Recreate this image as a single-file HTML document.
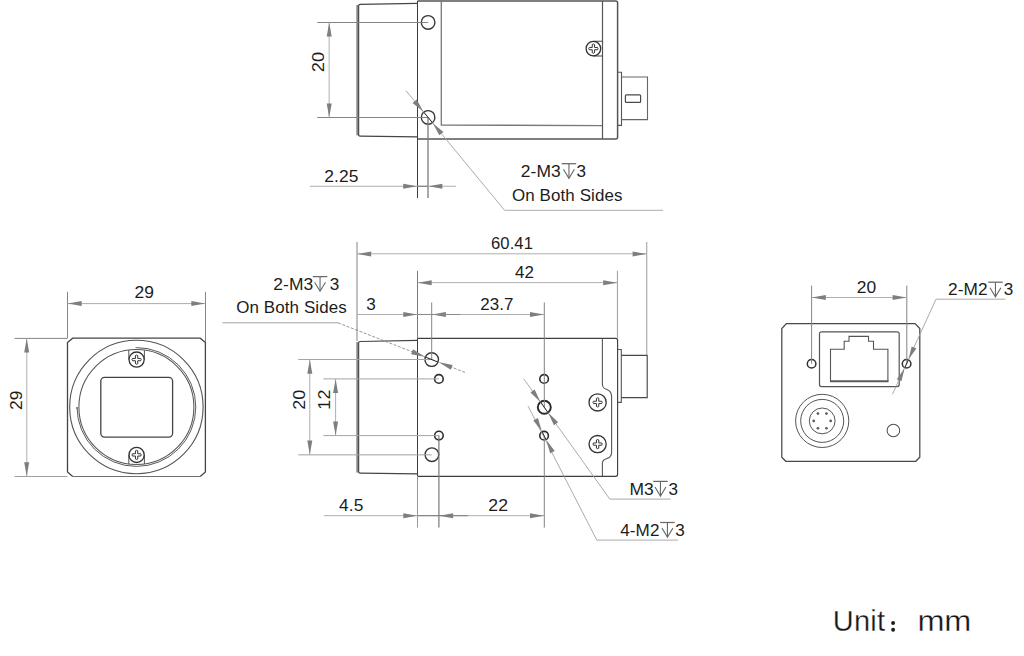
<!DOCTYPE html>
<html lang="en">
<head>
<meta charset="utf-8">
<title>Camera dimensional drawing</title>
<style>
html,body{margin:0;padding:0;background:#fff;}
body{width:1024px;height:656px;overflow:hidden;font-family:"Liberation Sans",sans-serif;}
svg{display:block;}
svg text{font-family:"Liberation Sans",sans-serif;}
</style>
</head>
<body>
<svg width="1024" height="656" viewBox="0 0 1024 656">
<rect x="0" y="0" width="1024" height="656" fill="#ffffff"/>
<path d="M417.5,3.4 L360.2,4.4 Q358.6,4.4 358.6,6 L358.6,134.4 Q358.6,136 360.2,136 L417.5,136.9" stroke="#454545" stroke-width="1.25" fill="none" />
<line x1="357.2" y1="5" x2="357.2" y2="135.4" stroke="#888" stroke-width="1.8" />
<path d="M417.5,1.0 H615.6 Q617.6,1.0 617.6,3.0 V137 Q617.6,139 615.6,139 H417.5" stroke="#555" stroke-width="1.5" fill="none" />
<line x1="417.5" y1="1.0" x2="417.5" y2="198" stroke="#3c3c3c" stroke-width="1.0" />
<path d="M441.3,1.0 V125.0 L602.5,125.6" stroke="#787878" stroke-width="1.3" fill="none" />
<line x1="602.5" y1="1.0" x2="602.5" y2="139" stroke="#555" stroke-width="1.2" />
<circle cx="428.1" cy="22.4" r="6.8" stroke="#383838" stroke-width="1.4" fill="none"/>
<circle cx="428.1" cy="117.4" r="6.8" stroke="#383838" stroke-width="1.4" fill="none"/>
<path d="M593.4,41.2 H602.5 M593.4,56.0 H602.5" stroke="#444" stroke-width="1.1" fill="none" />
<circle cx="593.4" cy="48.6" r="7.3" stroke="#333" stroke-width="1.3" fill="none"/>
<path d="M592.25,44.5 Q593.4,43.5 594.55,44.5 V47.45 H597.5 Q598.5,48.6 597.5,49.75 H594.55 V52.7 Q593.4,53.7 592.25,52.7 V49.75 H589.3 Q588.3,48.6 589.3,47.45 H592.25 Z" stroke="#333" stroke-width="1.0" fill="none" />
<path d="M617.6,72.3 H621.5 V125.4 H617.6" stroke="#555" stroke-width="1.1" fill="none" />
<path d="M621.5,77 H647.5 V119.6 H621.5" stroke="#666" stroke-width="1.1" fill="none" />
<rect x="625.4" y="94.8" width="15.2" height="7.6" rx="0.9" fill="none" stroke="#4a4a4a" stroke-width="1.2"/>
<line x1="317.2" y1="22.5" x2="428.1" y2="22.5" stroke="#848484" stroke-width="1.0" />
<line x1="317.2" y1="117.5" x2="428.1" y2="117.5" stroke="#848484" stroke-width="1.0" />
<line x1="329.15" y1="22.5" x2="329.15" y2="117.5" stroke="#aeaeae" stroke-width="1.0" />
<polygon points="329.20,22.50 331.70,36.50 326.70,36.50" fill="#7e7e7e"/>
<polygon points="329.20,117.50 326.70,103.50 331.70,103.50" fill="#7e7e7e"/>
<text transform="translate(323.8 62.0) rotate(-90) scale(1.1 1)" font-size="16.6" text-anchor="middle" letter-spacing="0.1" fill="#1c1c1c">20</text>
<line x1="428.0" y1="117.4" x2="428.0" y2="198" stroke="#7a7a7a" stroke-width="1.3" />
<line x1="309.8" y1="186.25" x2="456" y2="186.25" stroke="#aeaeae" stroke-width="1.0" />
<line x1="417.5" y1="186.25" x2="428" y2="186.25" stroke="#777" stroke-width="1.0" />
<polygon points="417.20,186.25 403.20,188.75 403.20,183.75" fill="#7e7e7e"/>
<polygon points="428.40,186.25 442.40,183.75 442.40,188.75" fill="#7e7e7e"/>
<text transform="translate(324.2 181.9) scale(1.05 1)" font-size="16.6" text-anchor="start" letter-spacing="0.1" fill="#1c1c1c">2.25</text>
<path d="M406,90.7 L504.6,210.3 H663" stroke="#a2a2a2" stroke-width="0.9" fill="none" />
<polygon points="423.20,111.60 412.53,102.90 416.70,99.47" fill="#7e7e7e"/>
<polygon points="432.80,123.20 443.47,131.90 439.30,135.33" fill="#7e7e7e"/>
<line x1="423.77" y1="112.15" x2="432.43" y2="122.65" stroke="#2e2e2e" stroke-width="1.0" />
<text transform="translate(520.8 177.4) scale(1.05 1)" font-size="16.6" text-anchor="start" letter-spacing="0.1" fill="#1c1c1c">2-M3</text>
<g stroke="#686868" stroke-width="1.1" fill="none"><path d="M561.7,163.70 H576.20" stroke-width="1.25"/><path d="M568.95,163.70 V177.70"/><path d="M563.50,169.30 L568.95,178.40 L574.40,169.30"/></g>
<text transform="translate(576.6 177.4) scale(1.03 1)" font-size="16.6" text-anchor="start" letter-spacing="0.1" fill="#1c1c1c">3</text>
<text transform="translate(512.0 201.3) scale(1.022 1)" font-size="16.6" text-anchor="start" letter-spacing="0.1" fill="#1c1c1c">On Both Sides</text>
<path d="M417.5,340.4 L360.2,341.5 Q358.6,341.5 358.6,343.1 L358.6,471.6 Q358.6,473.2 360.2,473.2 L417.5,473.8" stroke="#454545" stroke-width="1.25" fill="none" />
<line x1="357.2" y1="342" x2="357.2" y2="472.6" stroke="#888" stroke-width="1.8" />
<path d="M417.5,338.4 H615.6 Q617.6,338.4 617.6,340.4 V474.3 Q617.6,476.3 615.6,476.3 H417.5" stroke="#404040" stroke-width="1.15" fill="none" />
<line x1="417.5" y1="270.8" x2="417.5" y2="338.4" stroke="#7a7a7a" stroke-width="1.0" />
<line x1="417.5" y1="338.4" x2="417.5" y2="476.3" stroke="#3c3c3c" stroke-width="1.0" />
<line x1="417.5" y1="476.3" x2="417.5" y2="527.6" stroke="#9a9a9a" stroke-width="1.0" />
<path d="M602.4,338.4 V384.0 C602.4,387.4 603.5,388.4 606.9,389.5 C610,390.6 611.6,392.9 611.6,396.6 V452.2 C611.6,455.8 610,457.6 606.9,458.6 C603.5,459.8 602.4,460.6 602.4,463 V476.3" stroke="#555" stroke-width="1.1" fill="none" />
<circle cx="431.7" cy="359.6" r="6.8" stroke="#383838" stroke-width="1.4" fill="none"/>
<circle cx="431.9" cy="454.65" r="6.8" stroke="#383838" stroke-width="1.4" fill="none"/>
<circle cx="438.9" cy="378.9" r="4.3" stroke="#2e2e2e" stroke-width="1.6" fill="none"/>
<circle cx="438.9" cy="435.6" r="4.3" stroke="#2e2e2e" stroke-width="1.6" fill="none"/>
<circle cx="544.1" cy="378.9" r="4.3" stroke="#2e2e2e" stroke-width="1.6" fill="none"/>
<circle cx="544.1" cy="435.7" r="4.3" stroke="#2e2e2e" stroke-width="1.6" fill="none"/>
<circle cx="544.3" cy="407.3" r="6.5" stroke="#2a2a2a" stroke-width="1.9" fill="none"/>
<circle cx="597.6" cy="402.4" r="8.6" stroke="#333" stroke-width="1.3" fill="none"/>
<path d="M596.45,398.29999999999995 Q597.6,397.29999999999995 598.75,398.29999999999995 V401.25 H601.7 Q602.7,402.4 601.7,403.54999999999995 H598.75 V406.5 Q597.6,407.5 596.45,406.5 V403.54999999999995 H593.5 Q592.5,402.4 593.5,401.25 H596.45 Z" stroke="#333" stroke-width="1.0" fill="none" />
<circle cx="597.6" cy="444.1" r="8.6" stroke="#333" stroke-width="1.3" fill="none"/>
<path d="M596.45,440.0 Q597.6,439.0 598.75,440.0 V442.95000000000005 H601.7 Q602.7,444.1 601.7,445.25 H598.75 V448.20000000000005 Q597.6,449.20000000000005 596.45,448.20000000000005 V445.25 H593.5 Q592.5,444.1 593.5,442.95000000000005 H596.45 Z" stroke="#333" stroke-width="1.0" fill="none" />
<path d="M617.6,349.5 H621.3 V402.4 H617.6" stroke="#555" stroke-width="1.1" fill="none" />
<path d="M621.3,355.3 H647.2 V397.6 H621.3" stroke="#484848" stroke-width="1.15" fill="none" />
<line x1="357.0" y1="242" x2="357.0" y2="341" stroke="#848484" stroke-width="1.0" />
<line x1="646.75" y1="242" x2="646.75" y2="355" stroke="#9a9a9a" stroke-width="1.0" />
<line x1="357.0" y1="253.8" x2="646.75" y2="253.8" stroke="#aeaeae" stroke-width="1.0" />
<polygon points="357.20,253.90 371.20,251.40 371.20,256.40" fill="#7e7e7e"/>
<polygon points="646.60,253.90 632.60,256.40 632.60,251.40" fill="#7e7e7e"/>
<text transform="translate(491.0 248.9) scale(1.0 1)" font-size="16.6" text-anchor="start" letter-spacing="0.1" fill="#1c1c1c">60.41</text>
<line x1="617.4" y1="270.8" x2="617.4" y2="338.5" stroke="#9c9c9c" stroke-width="1.0" />
<line x1="417.5" y1="282.65" x2="617.4" y2="282.65" stroke="#aeaeae" stroke-width="1.0" />
<polygon points="417.70,282.70 431.70,280.20 431.70,285.20" fill="#7e7e7e"/>
<polygon points="617.20,282.70 603.20,285.20 603.20,280.20" fill="#7e7e7e"/>
<text transform="translate(515.0 277.6) scale(1.02 1)" font-size="16.6" text-anchor="start" letter-spacing="0.1" fill="#1c1c1c">42</text>
<line x1="431.7" y1="302.5" x2="431.7" y2="359.6" stroke="#848484" stroke-width="1.0" />
<line x1="544.3" y1="302.5" x2="544.3" y2="407.3" stroke="#848484" stroke-width="1.0" />
<line x1="544.3" y1="435.7" x2="544.3" y2="527.6" stroke="#848484" stroke-width="1.0" />
<line x1="357.0" y1="314.5" x2="544.3" y2="314.5" stroke="#aeaeae" stroke-width="1.0" />
<polygon points="417.30,314.50 403.30,317.00 403.30,312.00" fill="#7e7e7e"/>
<polygon points="431.90,314.50 445.90,312.00 445.90,317.00" fill="#7e7e7e"/>
<polygon points="544.00,314.50 530.00,317.00 530.00,312.00" fill="#7e7e7e"/>
<line x1="417.5" y1="314.5" x2="460.4" y2="314.5" stroke="#8a8a8a" stroke-width="1.0" />
<text transform="translate(480.3 309.8) scale(1.02 1)" font-size="16.6" text-anchor="start" letter-spacing="0.1" fill="#1c1c1c">23.7</text>
<text transform="translate(366.3 309.8) scale(1.03 1)" font-size="16.6" text-anchor="start" letter-spacing="0.1" fill="#1c1c1c">3</text>
<line x1="298.3" y1="359.5" x2="431.7" y2="359.5" stroke="#a4a4a4" stroke-width="1.0" />
<line x1="298.3" y1="454.85" x2="431.7" y2="454.85" stroke="#a0a0a0" stroke-width="1.0" />
<line x1="309.8" y1="359.5" x2="309.8" y2="454.85" stroke="#aeaeae" stroke-width="1.0" />
<polygon points="309.80,359.70 312.30,373.70 307.30,373.70" fill="#7e7e7e"/>
<polygon points="309.80,454.60 307.30,440.60 312.30,440.60" fill="#7e7e7e"/>
<text transform="translate(304.9 399.8) rotate(-90) scale(1.08 1)" font-size="16.6" text-anchor="middle" letter-spacing="0.1" fill="#1c1c1c">20</text>
<line x1="323.4" y1="378.9" x2="438.9" y2="378.9" stroke="#a4a4a4" stroke-width="1.0" />
<line x1="323.4" y1="435.6" x2="438.9" y2="435.6" stroke="#a4a4a4" stroke-width="1.0" />
<line x1="335.6" y1="378.9" x2="335.6" y2="435.6" stroke="#aeaeae" stroke-width="1.0" />
<polygon points="335.60,379.10 338.10,393.10 333.10,393.10" fill="#7e7e7e"/>
<polygon points="335.60,435.40 333.10,421.40 338.10,421.40" fill="#7e7e7e"/>
<text transform="translate(329.85 399.6) rotate(-90) scale(1.08 1)" font-size="16.6" text-anchor="middle" letter-spacing="0.1" fill="#1c1c1c">12</text>
<line x1="438.9" y1="435.6" x2="438.9" y2="527.6" stroke="#7a7a7a" stroke-width="1.2" />
<line x1="324" y1="515.7" x2="544.3" y2="515.7" stroke="#aeaeae" stroke-width="1.0" />
<line x1="417.5" y1="515.7" x2="467.8" y2="515.7" stroke="#7a7a7a" stroke-width="1.0" />
<polygon points="417.30,515.70 403.30,518.20 403.30,513.20" fill="#7e7e7e"/>
<polygon points="439.10,515.70 453.10,513.20 453.10,518.20" fill="#7e7e7e"/>
<polygon points="544.00,515.70 530.00,518.20 530.00,513.20" fill="#7e7e7e"/>
<text transform="translate(339.0 510.8) scale(1.045 1)" font-size="16.6" text-anchor="start" letter-spacing="0.1" fill="#1c1c1c">4.5</text>
<text transform="translate(488.3 510.9) scale(1.06 1)" font-size="16.6" text-anchor="start" letter-spacing="0.1" fill="#1c1c1c">22</text>
<path d="M222.5,322.8 H338" stroke="#a2a2a2" stroke-width="1.0" fill="none" />
<path d="M338,322.8 L465,372.4" stroke="#7c7c7c" stroke-width="0.8" fill="none" stroke-dasharray="3 1.6"/>
<polygon points="424.90,356.80 411.10,354.20 412.99,349.36" fill="#7e7e7e"/>
<polygon points="438.90,362.30 452.70,364.90 450.81,369.74" fill="#7e7e7e"/>
<line x1="425.37" y1="357.13" x2="438.03" y2="362.07" stroke="#2e2e2e" stroke-width="1.0" />
<text transform="translate(273.2 290.1) scale(1.05 1)" font-size="16.6" text-anchor="start" letter-spacing="0.1" fill="#1c1c1c">2-M3</text>
<g stroke="#686868" stroke-width="1.1" fill="none"><path d="M312.8,276.60 H327.30" stroke-width="1.25"/><path d="M320.05,276.60 V290.60"/><path d="M314.60,282.20 L320.05,291.30 L325.50,282.20"/></g>
<text transform="translate(329.8 290.1) scale(1.03 1)" font-size="16.6" text-anchor="start" letter-spacing="0.1" fill="#1c1c1c">3</text>
<text transform="translate(236.2 313.4) scale(1.022 1)" font-size="16.6" text-anchor="start" letter-spacing="0.1" fill="#1c1c1c">On Both Sides</text>
<path d="M523.7,378.8 L609.8,499.1 H670.6" stroke="#a2a2a2" stroke-width="0.9" fill="none" />
<polygon points="540.40,401.90 530.43,392.44 534.66,389.41" fill="#7e7e7e"/>
<polygon points="548.20,412.80 558.17,422.26 553.94,425.29" fill="#7e7e7e"/>
<line x1="540.52" y1="402.01" x2="548.08" y2="412.59" stroke="#2e2e2e" stroke-width="1.0" />
<path d="M528,406 L596.8,540.1 H678" stroke="#a2a2a2" stroke-width="0.9" fill="none" />
<polygon points="541.80,431.30 533.32,420.48 537.95,418.10" fill="#7e7e7e"/>
<polygon points="546.30,440.10 554.78,450.92 550.15,453.30" fill="#7e7e7e"/>
<line x1="542.14" y1="431.87" x2="546.06" y2="439.53" stroke="#2e2e2e" stroke-width="1.0" />
<text transform="translate(629.4 494.5) scale(1.05 1)" font-size="16.6" text-anchor="start" letter-spacing="0.1" fill="#1c1c1c">M3</text>
<g stroke="#686868" stroke-width="1.1" fill="none"><path d="M653.2,481.40 H667.70" stroke-width="1.25"/><path d="M660.45,481.40 V495.40"/><path d="M655.00,487.00 L660.45,496.10 L665.90,487.00"/></g>
<text transform="translate(668.4 494.5) scale(1.03 1)" font-size="16.6" text-anchor="start" letter-spacing="0.1" fill="#1c1c1c">3</text>
<text transform="translate(620.2 535.9) scale(1.03 1)" font-size="16.6" text-anchor="start" letter-spacing="0.1" fill="#1c1c1c">4-M2</text>
<g stroke="#686868" stroke-width="1.1" fill="none"><path d="M660.2,522.50 H674.70" stroke-width="1.25"/><path d="M667.45,522.50 V536.50"/><path d="M662.00,528.10 L667.45,537.20 L672.90,528.10"/></g>
<text transform="translate(675.3 535.9) scale(1.03 1)" font-size="16.6" text-anchor="start" letter-spacing="0.1" fill="#1c1c1c">3</text>
<path d="M72.7,476.5 L67.5,472.0 V342.6 L72.7,338.2 H200.2 L205.4,342.6 V472.0 L200.2,476.5" stroke="#444" stroke-width="1.3" fill="none" />
<line x1="72.2" y1="476.5" x2="200.7" y2="476.5" stroke="#707070" stroke-width="1.2" />
<circle cx="136.4" cy="407" r="66.7" stroke="#555" stroke-width="1.1" fill="none"/>
<circle cx="136.4" cy="407" r="57.5" stroke="#555" stroke-width="1.05" fill="none"/>
<path d="M135.6,347.6 H136.4 A59.4,59.4 0 1 1 77.0,407 V409" stroke="#5a5a5a" stroke-width="1.0" fill="none" />
<rect x="100.8" y="377.3" width="71.8" height="59.8" rx="3.8" fill="none" stroke="#444" stroke-width="1.3"/>
<path d="M128.8,359.6 V350.0 M144.4,359.6 V350.2" stroke="#555" stroke-width="1.0" fill="none" />
<path d="M128.8,454.9 V464.2 M144.4,454.9 V464.0" stroke="#555" stroke-width="1.0" fill="none" />
<circle cx="136.6" cy="359.6" r="7.6" stroke="#333" stroke-width="1.3" fill="none"/>
<path d="M135.45,355.5 Q136.6,354.5 137.75,355.5 V358.45000000000005 H140.7 Q141.7,359.6 140.7,360.75 H137.75 V363.70000000000005 Q136.6,364.70000000000005 135.45,363.70000000000005 V360.75 H132.5 Q131.5,359.6 132.5,358.45000000000005 H135.45 Z" stroke="#333" stroke-width="1.0" fill="none" />
<circle cx="136.6" cy="454.9" r="7.6" stroke="#333" stroke-width="1.3" fill="none"/>
<path d="M135.45,450.79999999999995 Q136.6,449.79999999999995 137.75,450.79999999999995 V453.75 H140.7 Q141.7,454.9 140.7,456.04999999999995 H137.75 V459.0 Q136.6,460.0 135.45,459.0 V456.04999999999995 H132.5 Q131.5,454.9 132.5,453.75 H135.45 Z" stroke="#333" stroke-width="1.0" fill="none" />
<line x1="67.5" y1="291.8" x2="67.5" y2="338" stroke="#848484" stroke-width="1.0" />
<line x1="205.5" y1="291.8" x2="205.5" y2="342" stroke="#848484" stroke-width="1.0" />
<line x1="67.5" y1="303.6" x2="205.5" y2="303.6" stroke="#aeaeae" stroke-width="1.0" />
<polygon points="67.70,303.60 81.70,301.10 81.70,306.10" fill="#7e7e7e"/>
<polygon points="205.30,303.60 191.30,306.10 191.30,301.10" fill="#7e7e7e"/>
<text transform="translate(134.4 298.3) scale(1.05 1)" font-size="16.6" text-anchor="start" letter-spacing="0.1" fill="#1c1c1c">29</text>
<line x1="14.6" y1="338.4" x2="67.5" y2="338.4" stroke="#848484" stroke-width="1.0" />
<line x1="14.6" y1="476.5" x2="67.5" y2="476.5" stroke="#a0a0a0" stroke-width="1.0" />
<line x1="26.8" y1="338.4" x2="26.8" y2="476.5" stroke="#aeaeae" stroke-width="1.0" />
<polygon points="26.70,338.60 29.20,352.60 24.20,352.60" fill="#7e7e7e"/>
<polygon points="26.70,476.30 24.20,462.30 29.20,462.30" fill="#7e7e7e"/>
<text transform="translate(22.0 400.2) rotate(-90) scale(1.05 1)" font-size="16.6" text-anchor="middle" letter-spacing="0.1" fill="#1c1c1c">29</text>
<path d="M786.4,323.6 H915.1 L919.8,328.6 V457.2 L915.8,461.3 H785.8 L781.8,457.2 V328.6 Z" stroke="#484848" stroke-width="1.25" fill="none" />
<rect x="819.5" y="331.8" width="79.7" height="54.8" rx="2" fill="none" stroke="#555" stroke-width="1.2"/>
<path d="M830.5,381.4 V349.2 H844.2 V341.3 H849.0 V336.4 H868.5 V341.3 H873.5 V349.2 H887.9 V381.4" stroke="#555" stroke-width="1.1" fill="none" />
<line x1="829.95" y1="381.2" x2="888.45" y2="381.2" stroke="#5a5a5a" stroke-width="1.9" />
<circle cx="811.6" cy="363.8" r="4.3" stroke="#303030" stroke-width="1.5" fill="none"/>
<circle cx="906.6" cy="363.8" r="4.3" stroke="#303030" stroke-width="1.5" fill="none"/>
<circle cx="822.2" cy="420.9" r="26.6" stroke="#555" stroke-width="1.0" fill="none"/>
<circle cx="822.2" cy="420.9" r="21.5" stroke="#555" stroke-width="1.0" fill="none"/>
<circle cx="822.2" cy="420.9" r="12.9" stroke="#555" stroke-width="1.0" fill="none"/>
<circle cx="830.70" cy="420.90" r="1.35" fill="#5a5a5a"/>
<circle cx="826.45" cy="428.26" r="1.35" fill="#5a5a5a"/>
<circle cx="817.95" cy="428.26" r="1.35" fill="#5a5a5a"/>
<circle cx="813.70" cy="420.90" r="1.35" fill="#5a5a5a"/>
<circle cx="817.95" cy="413.54" r="1.35" fill="#5a5a5a"/>
<circle cx="826.45" cy="413.54" r="1.35" fill="#5a5a5a"/>
<circle cx="893.4" cy="430.5" r="6.3" stroke="#505050" stroke-width="1.05" fill="none"/>
<line x1="811.6" y1="285.6" x2="811.6" y2="363.8" stroke="#848484" stroke-width="1.0" />
<line x1="906.8" y1="285.6" x2="906.8" y2="363.8" stroke="#848484" stroke-width="1.0" />
<line x1="811.6" y1="297.5" x2="906.8" y2="297.5" stroke="#aeaeae" stroke-width="1.0" />
<polygon points="811.80,297.50 825.80,295.00 825.80,300.00" fill="#7e7e7e"/>
<polygon points="906.60,297.50 892.60,300.00 892.60,295.00" fill="#7e7e7e"/>
<text transform="translate(856.8 292.7) scale(1.05 1)" font-size="16.6" text-anchor="start" letter-spacing="0.1" fill="#1c1c1c">20</text>
<path d="M1005.5,299.2 H936 L892.4,394.4" stroke="#a2a2a2" stroke-width="0.9" fill="none" />
<polygon points="908.60,359.30 911.65,346.40 916.38,348.56" fill="#7e7e7e"/>
<polygon points="904.50,368.40 901.45,381.30 896.72,379.14" fill="#7e7e7e"/>
<line x1="908.39" y1="359.89" x2="904.81" y2="367.71" stroke="#2e2e2e" stroke-width="1.0" />
<text transform="translate(948.0 295.4) scale(1.04 1)" font-size="16.6" text-anchor="start" letter-spacing="0.1" fill="#1c1c1c">2-M2</text>
<g stroke="#686868" stroke-width="1.1" fill="none"><path d="M988.2,282.20 H1002.70" stroke-width="1.25"/><path d="M995.45,282.20 V296.20"/><path d="M990.00,287.80 L995.45,296.90 L1000.90,287.80"/></g>
<text transform="translate(1003.8 295.4) scale(1.03 1)" font-size="16.6" text-anchor="start" letter-spacing="0.1" fill="#1c1c1c">3</text>
<text transform="translate(832.8 631.3) scale(1.0 1)" font-size="29" letter-spacing="0.25" fill="#161616" stroke="#fff" stroke-width="0.3">Unit</text>
<circle cx="893.1" cy="623.0" r="1.95" fill="#1c1c1c"/><circle cx="893.1" cy="629.8" r="1.95" fill="#1c1c1c"/>
<text transform="translate(917.6 631.3) scale(1.12 1)" font-size="29" letter-spacing="-0.4" fill="#161616" stroke="#fff" stroke-width="0.3">mm</text>
</svg>
</body>
</html>
